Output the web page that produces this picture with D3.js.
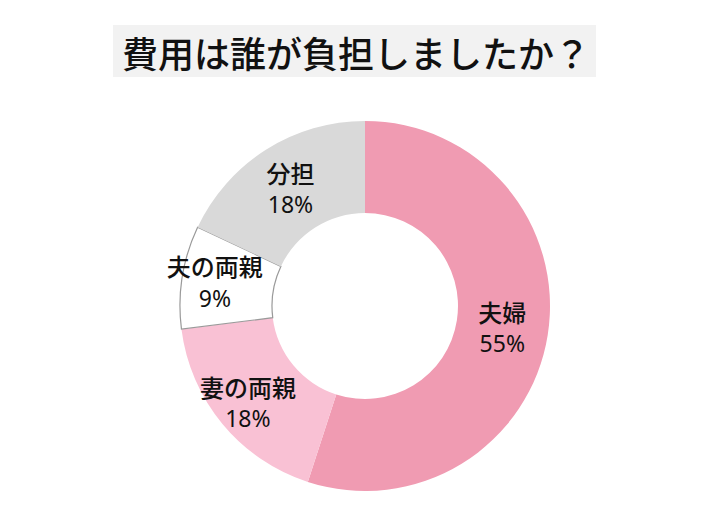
<!DOCTYPE html>
<html><head><meta charset="utf-8">
<script src="https://cdn.jsdelivr.net/npm/d3@7"></script>
<style>body{margin:0;background:#fff}svg{display:block}</style>
</head><body>
<svg id="c" width="724" height="521"></svg>
<script>
const title = "費用は誰が負担しましたか？";
const categories = ["夫婦", "妻の両親", "夫の両親", "分担"];
const values = [55, 18, 9, 18];
const colors = ["#F09BB2", "#F9C1D4", "#FFFFFF", "#D9D9D9"];
const strokes = ["none", "none", "#9A9A9A", "none"];

const svg = d3.select("#c");
const cx = 365, cy = 306, rOut = 185, rIn = 93;
const font = "'Noto Sans CJK JP','Noto Sans',sans-serif";
const numFont = "'Noto Sans','Open Sans',sans-serif";

// title
const tg = svg.append("g");
tg.append("rect").attr("x", 113).attr("y", 25).attr("width", 483).attr("height", 52).attr("fill", "#F2F2F2");
tg.append("text").attr("x", 356).attr("y", 52).attr("text-anchor", "middle")
  .attr("dominant-baseline", "central").attr("font-family", font).attr("font-size", 36)
  .attr("font-weight", 500).attr("fill", "#111").text(title);

const data = categories.map((c, i) => ({cat: c, v: values[i], color: colors[i], stroke: strokes[i]}));
const pie = d3.pie().value(d => d.v).sort(null);
const arcs = pie(data);
const arc = d3.arc().innerRadius(rIn).outerRadius(rOut);

// labels: centred in the ring, wider labels nudged outward (best-fit style)
function labelPos(d) {
  const r = d.data.cat.length > 2 ? 152 : 139;
  const a = (d.startAngle + d.endAngle) / 2;
  return [r * Math.sin(a), -r * Math.cos(a)];
}

const g = svg.append("g").attr("transform", `translate(${cx},${cy})`);
g.selectAll("path").data(arcs).join("path")
  .attr("d", arc).attr("fill", d => d.data.color)
  .attr("stroke", d => d.data.stroke).attr("stroke-width", 1.2);

const lg = g.selectAll("g.lbl").data(arcs).join("g").attr("class", "lbl")
  .attr("transform", d => { const [x, y] = labelPos(d); return `translate(${x},${y})`; });
lg.append("text").attr("text-anchor", "middle").attr("y", -16.5).attr("dominant-baseline", "central")
  .attr("font-family", font).attr("font-size", 24).attr("font-weight", 500).attr("fill", "#111")
  .text(d => d.data.cat);
lg.append("text").attr("text-anchor", "middle").attr("y", 24.5)
  .attr("font-family", numFont).attr("font-size", 23).attr("font-weight", 400).attr("fill", "#111")
  .text(d => d.data.v + "%");
</script>
</body></html>
